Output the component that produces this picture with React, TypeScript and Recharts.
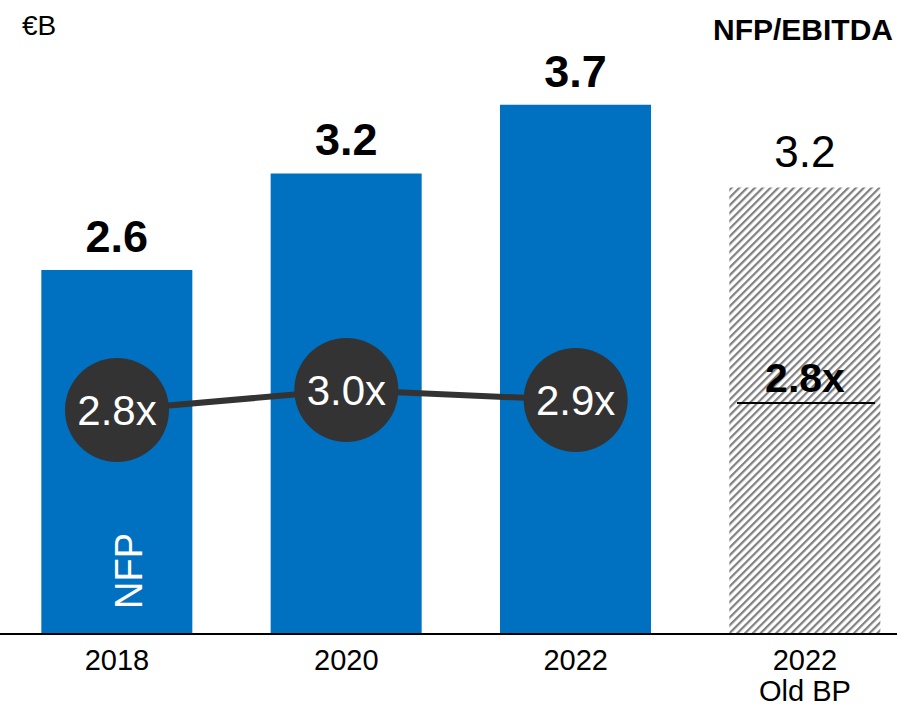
import React from "react";
import { ComposedChart, Bar, Line, XAxis, YAxis, Cell, LabelList } from "recharts";

// tick labels (one entry per line)
const tickLines: string[][] = [["2018"], ["2020"], ["2022"], ["2022", "Old BP"]];
// NFP in €B (bar heights) and the printed labels
const nfpValues = [2.6, 3.29, 3.78, 3.19];
const nfpLabels = ["2.6", "3.2", "3.7", "3.2"];
// NFP/EBITDA multiple
const ratioValues: (number | null)[] = [2.8, 3.0, 2.9, null];
const oldBpRatio: (number | null)[] = [null, null, null, 2.8];
const isOldBp = [false, false, false, true];

const BLUE = "#0070C0";
const DARK = "#333333";
const FONT = "'Liberation Sans', Arial, sans-serif";

const data = nfpValues.map((v, i) => ({
  idx: i,
  nfp: v,
  label: nfpLabels[i],
  ratio: ratioValues[i],
  oldBp: oldBpRatio[i],
}));

function ValueLabel(props: any) {
  const { x, y, width, height, index } = props;
  const plan = isOldBp[index];
  return (
    <g>
      <text
        x={x + width / 2}
        y={y - (plan ? 20 : 18)}
        textAnchor="middle"
        fontFamily={FONT}
        fontSize={plan ? 44 : 45}
        fontWeight={plan ? 400 : 700}
        fill="#000"
      >
        {nfpLabels[index]}
      </text>
      {index === 0 && (
        <text
          x={x + 101}
          y={y + height - 63}
          transform={`rotate(-90, ${x + 101}, ${y + height - 63})`}
          textAnchor="middle"
          fontFamily={FONT}
          fontSize={38}
          fill="#fff"
        >
          NFP
        </text>
      )}
    </g>
  );
}

function RatioDot(props: any) {
  const { cx, cy, payload } = props;
  if (cx == null || cy == null || payload.ratio == null) return null;
  return (
    <g>
      <circle cx={cx} cy={cy} r={52} fill={DARK} />
      <text x={cx} y={cy + 15} textAnchor="middle" fontFamily={FONT} fontSize={42} fill="#fff">
        {payload.ratio.toFixed(1)}x
      </text>
    </g>
  );
}

function OldBpDot(props: any) {
  const { cx, cy, payload } = props;
  if (cx == null || cy == null || payload.oldBp == null) return null;
  return (
    <g>
      <line x1={cx - 68} x2={cx + 70} y1={cy - 7} y2={cy - 7} stroke="#000" strokeWidth={2} />
      <text x={cx} y={cy - 18} textAnchor="middle" fontFamily={FONT} fontSize={41} fontWeight={700} fill="#000">
        {payload.oldBp.toFixed(1)}x
      </text>
    </g>
  );
}

function Tick(props: any) {
  const { x, y, payload } = props;
  const lines = tickLines[payload.value] || [];
  return (
    <g>
      {lines.map((t, i) => (
        <text
          key={i}
          x={x}
          y={y + 36 + i * 31}
          textAnchor="middle"
          fontFamily={FONT}
          fontSize={29}
          fill="#000"
        >
          {t}
        </text>
      ))}
    </g>
  );
}

export default function App() {
  return (
    <div style={{ position: "relative", width: 897, height: 708, background: "#fff" }}>
      <style>{"body{margin:0}"}</style>
      <svg width={0} height={0} style={{ position: "absolute" }}>
        <defs>
          <pattern id="hatch" patternUnits="userSpaceOnUse" width={5.5} height={5.5} patternTransform="rotate(45)">
            <rect x={0} y={0} width={2.2} height={5.5} fill="#808080" />
          </pattern>
        </defs>
      </svg>
      <ComposedChart width={897} height={708} data={data} margin={{ top: 74, right: 0, left: 0, bottom: 0 }}>
        <XAxis
          dataKey="idx"
          type="number"
          domain={[-0.5102, 3.4012]}
          ticks={[0, 1, 2, 3]}
          allowDataOverflow
          height={74}
          tickLine={false}
          tickSize={0}
          tickMargin={0}
          axisLine={{ stroke: "#000", strokeWidth: 2 }}
          tick={<Tick />}
        />
        <YAxis yAxisId="left" hide domain={[0, 4]} allowDataOverflow />
        <YAxis yAxisId="right" orientation="right" hide domain={[0.56, 6.16]} allowDataOverflow />
        <Bar dataKey="nfp" yAxisId="left" barSize={151} isAnimationActive={false}>
          {data.map((d, i) => (
            <Cell key={i} fill={isOldBp[i] ? "url(#hatch)" : BLUE} />
          ))}
          <LabelList dataKey="label" content={<ValueLabel />} />
        </Bar>
        <Line
          dataKey="ratio"
          yAxisId="right"
          stroke={DARK}
          strokeWidth={6}
          dot={<RatioDot />}
          activeDot={false}
          isAnimationActive={false}
        />
        <Line
          dataKey="oldBp"
          yAxisId="right"
          stroke="none"
          dot={<OldBpDot />}
          activeDot={false}
          isAnimationActive={false}
        />
      </ComposedChart>
      <div style={{ position: "absolute", left: 22, top: 8, fontFamily: FONT, fontSize: 28, lineHeight: "36px", color: "#000" }}>
        €B
      </div>
      <div
        style={{
          position: "absolute",
          right: 4,
          top: 12,
          fontFamily: FONT,
          fontSize: 30,
          fontWeight: 700,
          lineHeight: "36px",
          color: "#000",
        }}
      >
        NFP/EBITDA
      </div>
    </div>
  );
}
